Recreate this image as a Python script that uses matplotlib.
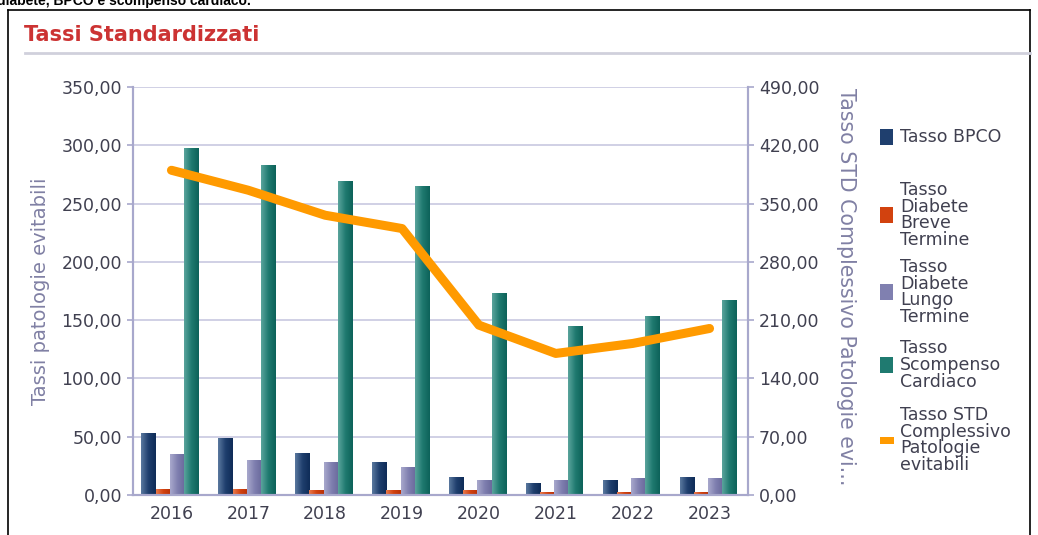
import numpy as np
import matplotlib.pyplot as plt
import matplotlib.patches as patches
from matplotlib.colors import LinearSegmentedColormap
from matplotlib.ticker import FuncFormatter, MultipleLocator

plt.rcParams['font.family'] = ['DejaVu Sans']

years = ['2016', '2017', '2018', '2019', '2020', '2021', '2022', '2023']
tasso_bpco = [53.0, 49.0, 36.0, 28.5, 15.5, 10.0, 13.0, 15.5]
tasso_diab_breve = [5.5, 5.5, 4.0, 4.0, 4.0, 2.5, 3.0, 3.0]
tasso_diab_lungo = [35.5, 30.0, 28.5, 24.0, 13.0, 13.0, 14.5, 14.5]
tasso_scompenso = [297.5, 283.0, 269.0, 265.0, 173.0, 145.0, 153.5, 167.5]
tasso_std = [390.0, 366.0, 336.0, 320.0, 204.0, 170.0, 182.0, 200.0]

labels = ['Tasso BPCO', 'Tasso\nDiabete\nBreve\nTermine', 'Tasso\nDiabete\nLungo\nTermine',
          'Tasso\nScompenso\nCardiaco', 'Tasso STD\nComplessivo\nPatologie\nevitabili']
# light edge, base, dark edge for each bar series
bar_colors = [('#5a789e', '#1f3f6e', '#0f2c58'),
              ('#e8784a', '#d2420f', '#b83208'),
              ('#a8a8cc', '#8080b0', '#6a6a9c'),
              ('#5aa49c', '#1f7a70', '#0d625a')]
line_color = '#ff9a00'
axis_col = '#a8a8cc'
grid_col = '#c8c8e0'
text_col = '#404050'
label_col = '#8080a4'

W, H = 1038, 535
fig = plt.figure(figsize=(W / 100, H / 100), dpi=100)
fig.patch.set_facecolor('white')


def fx(px):
    return px / W


def fy(py):
    return 1 - py / H


# frame and title strip
fig.add_artist(plt.Line2D([fx(8), fx(8)], [fy(10), 0], color='black', lw=1.2))
fig.add_artist(plt.Line2D([fx(8), fx(1030)], [fy(10), fy(10)], color='black', lw=1.2))
fig.add_artist(plt.Line2D([fx(1030), fx(1030)], [fy(10), 0], color='black', lw=1.2))
fig.add_artist(plt.Line2D([fx(25), fx(1030)], [fy(53), fy(53)], color='#d0d0dc', lw=2))
fig.text(fx(-3), fy(1), 'diabete, BPCO e scompenso cardiaco.', fontsize=10,
         fontweight='bold', family='Liberation Sans', va='center', ha='left')
fig.text(fx(24), fy(35), 'Tassi Standardizzati', fontsize=15, color='#cc3333',
         fontweight='bold', va='center', ha='left')

ax = fig.add_axes([fx(133), fy(495), fx(748) - fx(133), fy(87) - fy(495)])
ax2 = ax.twinx()

x = np.arange(len(years))
bw = 0.185
series = [tasso_bpco, tasso_diab_breve, tasso_diab_lungo, tasso_scompenso]
for i, vals in enumerate(series):
    bars = ax.bar(x + (i - 1.5) * bw - 0.02, vals, width=bw, color=bar_colors[i][1], zorder=2)
    cmap = LinearSegmentedColormap.from_list('g%d' % i, bar_colors[i])
    grad = np.linspace(0, 1, 32).reshape(1, -1)
    for b in bars:
        im = ax.imshow(grad, extent=[b.get_x(), b.get_x() + b.get_width(), 0, b.get_height()],
                       aspect='auto', cmap=cmap, zorder=2.5, interpolation='bicubic')
        im.set_clip_path(b)

ax.set_xlim(-0.5, len(years) - 0.5)
ax.set_ylim(0, 350)
ax.yaxis.set_major_locator(MultipleLocator(50))
fmt = FuncFormatter(lambda v, p: ('%.2f' % v).replace('.', ','))
ax.yaxis.set_major_formatter(fmt)
ax.set_xticks(x)
ax.set_xticklabels(years)
ax.grid(axis='y', color=grid_col, lw=1.2, zorder=0)
ax.set_axisbelow(True)

ax2.plot(x, tasso_std, color=line_color, lw=6.5, solid_joinstyle='round',
         solid_capstyle='round', zorder=5)
ax2.set_ylim(0, 490)
ax2.yaxis.set_major_locator(MultipleLocator(70))
ax2.yaxis.set_major_formatter(fmt)

for a in (ax, ax2):
    for s in a.spines.values():
        s.set_color(axis_col)
        s.set_linewidth(1.5)
    a.spines['top'].set_visible(False)
    a.tick_params(axis='y', length=4, width=1.2, color=axis_col, labelsize=12.5,
                  labelcolor=text_col, pad=4)
ax.tick_params(axis='x', length=0, labelsize=12.5, labelcolor=text_col, pad=7)

ax.set_ylabel('Tassi patologie evitabili', fontsize=14, color=label_col, labelpad=8)
fig.text(fx(846), fy(88), 'Tasso STD Complessivo Patologie evi...', rotation=-90,
         fontsize=14.8, color=label_col, ha='center', va='top')

# legend
leg_y = [137, 215, 292, 365, 440]
for i, (lab, yc) in enumerate(zip(labels, leg_y)):
    if i < 4:
        fig.add_artist(patches.Rectangle((fx(880), fy(yc + 8)), fx(13), fy(0) - fy(16),
                                         facecolor=bar_colors[i][1], edgecolor='none'))
    else:
        fig.add_artist(patches.Rectangle((fx(880), fy(yc + 4)), fx(14), fy(0) - fy(7),
                                         facecolor=line_color, edgecolor='none'))
    fig.text(fx(900), fy(yc), lab, fontsize=12.5, color=text_col, va='center',
             ha='left', linespacing=0.9)

fig.savefig('out.png', dpi=100)
